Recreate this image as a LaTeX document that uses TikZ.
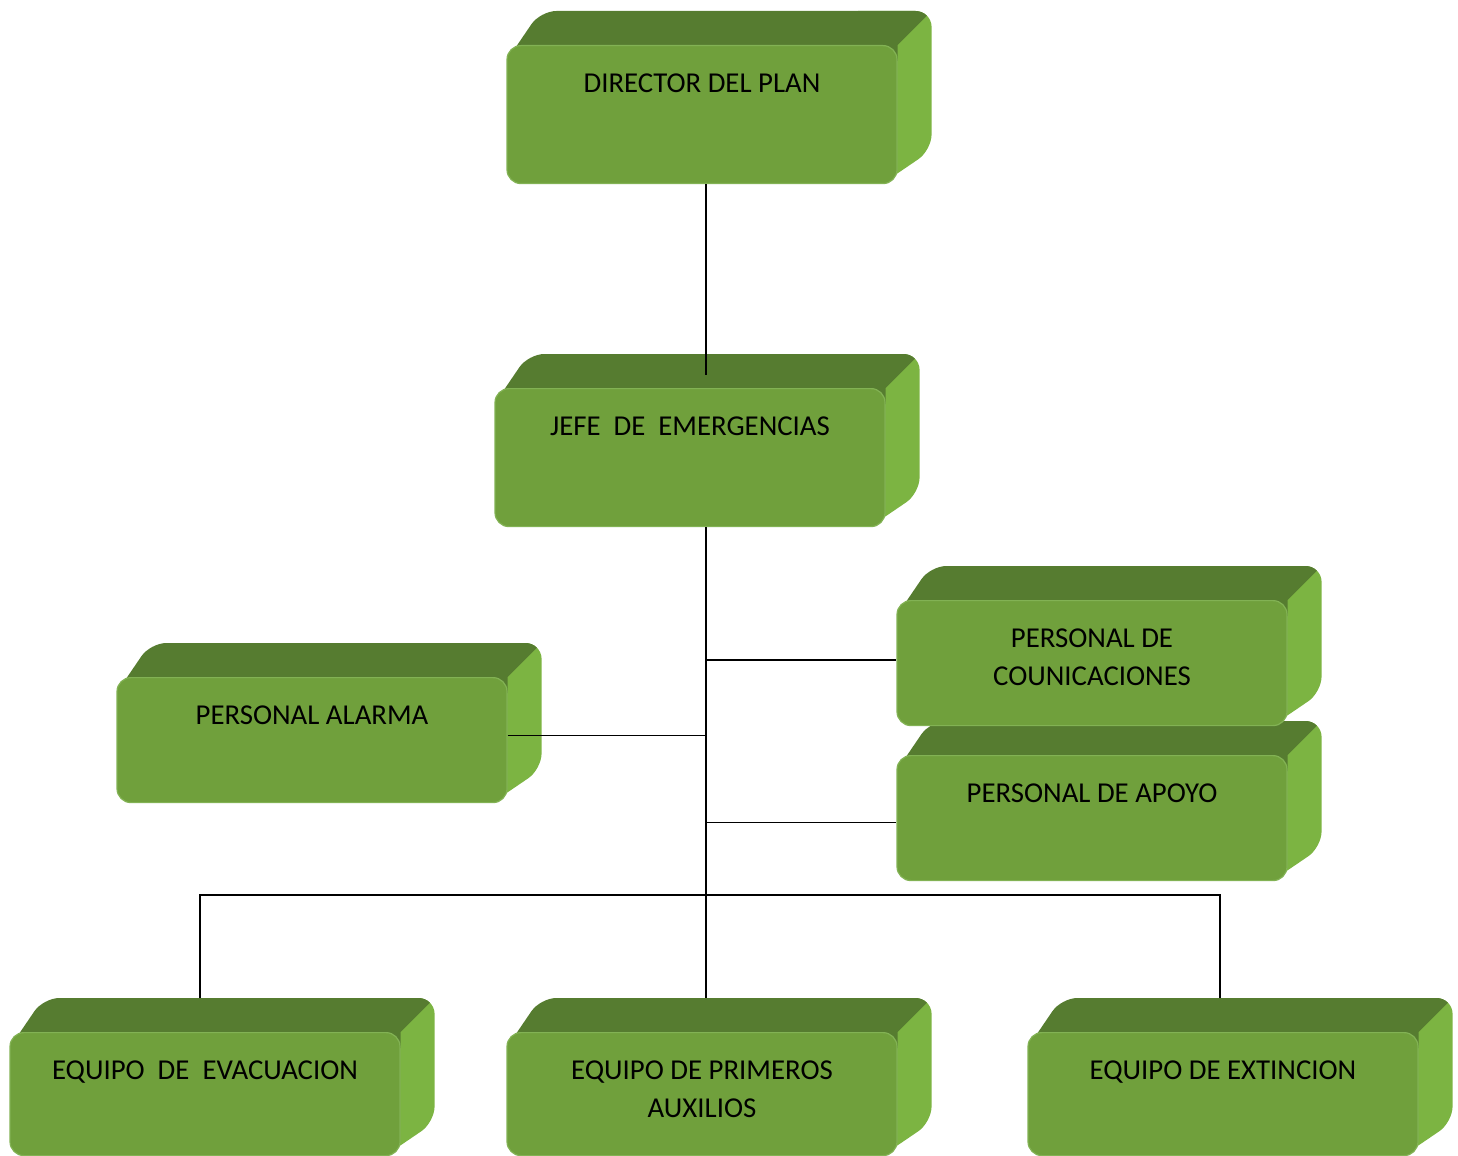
\documentclass[tikz,border=0pt]{standalone}
\usepackage{fontspec}
\setmainfont{Carlito}
\usetikzlibrary{backgrounds}

\definecolor{verdefrente}{RGB}{112,160,60}
\definecolor{verdearriba}{RGB}{86,124,48}
\definecolor{verdelado}{RGB}{124,180,66}
\definecolor{verdeborde}{RGB}{130,178,84}

\tikzset{
    caja/.style={rectangle, rounded corners=7pt, fill=verdefrente, draw=verdeborde, line width=0.6pt,
        minimum width=195pt, inner sep=0pt, font=\fontsize{14.4pt}{19pt}\selectfont},
    arriba/.style={fill=verdearriba},
    lado/.style={fill=verdelado},
    linea/.style={draw=black, line width=0.7pt}
}

\newcommand{\caja}[5]{%
    \node[caja, minimum height=#4, anchor=north] (#1) at (#2,#3)
        {\parbox[c][#4][t]{190pt}{\centering\vspace*{14.2pt}#5}};
    \begin{scope}[on background layer]
    \begin{scope}
        \clip[rounded corners=8pt] ([yshift=-8pt]#1.north west) -- ([shift={(17pt,17pt)}]#1.north west)
            -- ([shift={(17pt,17pt)}]#1.north east) -- ([shift={(17pt,17pt)}]#1.south east)
            -- ([xshift=-8pt]#1.south east) -- (#1.center) -- cycle;
        \fill[lado] ([shift={(-20pt,30pt)}]#1.north east) rectangle ([shift={(30pt,-20pt)}]#1.south east);
        \fill[arriba] ([yshift=-8pt]#1.north west) -- ([shift={(17pt,17pt)}]#1.north west)
            -- ([shift={(17pt,17pt)}]#1.north east) -- (#1.north east) -- ([yshift=-8pt]#1.north east) -- cycle;
    \end{scope}
    \end{scope}
}

\begin{document}
\begin{tikzpicture}[x=0.5pt,y=-0.5pt]
    \useasboundingbox (0,0) rectangle (1458,1156);
    \caja{dir}{702}{45}{69pt}{DIRECTOR DEL PLAN}
    \caja{jefe}{690}{388}{69pt}{JEFE~ DE~ EMERGENCIAS}
    \caja{com}{1092}{600}{62.5pt}{PERSONAL DE\\COUNICACIONES}
    \caja{apoyo}{1092}{755}{62.5pt}{PERSONAL DE APOYO}
    \caja{alarma}{312}{677}{62.5pt}{PERSONAL ALARMA}
    \caja{evac}{205}{1032}{61.5pt}{EQUIPO~ DE~ EVACUACION}
    \caja{prim}{702}{1032}{61.5pt}{EQUIPO DE PRIMEROS\\AUXILIOS}
    \caja{ext}{1223}{1032}{61.5pt}{EQUIPO DE EXTINCION}
    \coordinate (eje) at (706,0);
    \coordinate (bus) at (706,895);
    \draw[linea] (dir.south -| eje) -- ([yshift=6.5pt]eje |- jefe.north);
    \draw[linea] (jefe.south -| eje) -- ([yshift=17pt]eje |- prim.north);
    \draw[linea] ([yshift=1.5pt]eje |- com.west) -- ([yshift=1.5pt]com.west);
    \draw[linea] ([yshift=-2.2pt]eje |- apoyo.west) -- ([yshift=-2.2pt]apoyo.west);
    \draw[linea] ([yshift=2.2pt]alarma.east) -- ([yshift=2.2pt]eje |- alarma.east);
    \draw[linea] ([shift={(-2.5pt,17pt)}]evac.north) |- (bus) -| ([shift={(-1.5pt,17pt)}]ext.north);
\end{tikzpicture}
\end{document}
